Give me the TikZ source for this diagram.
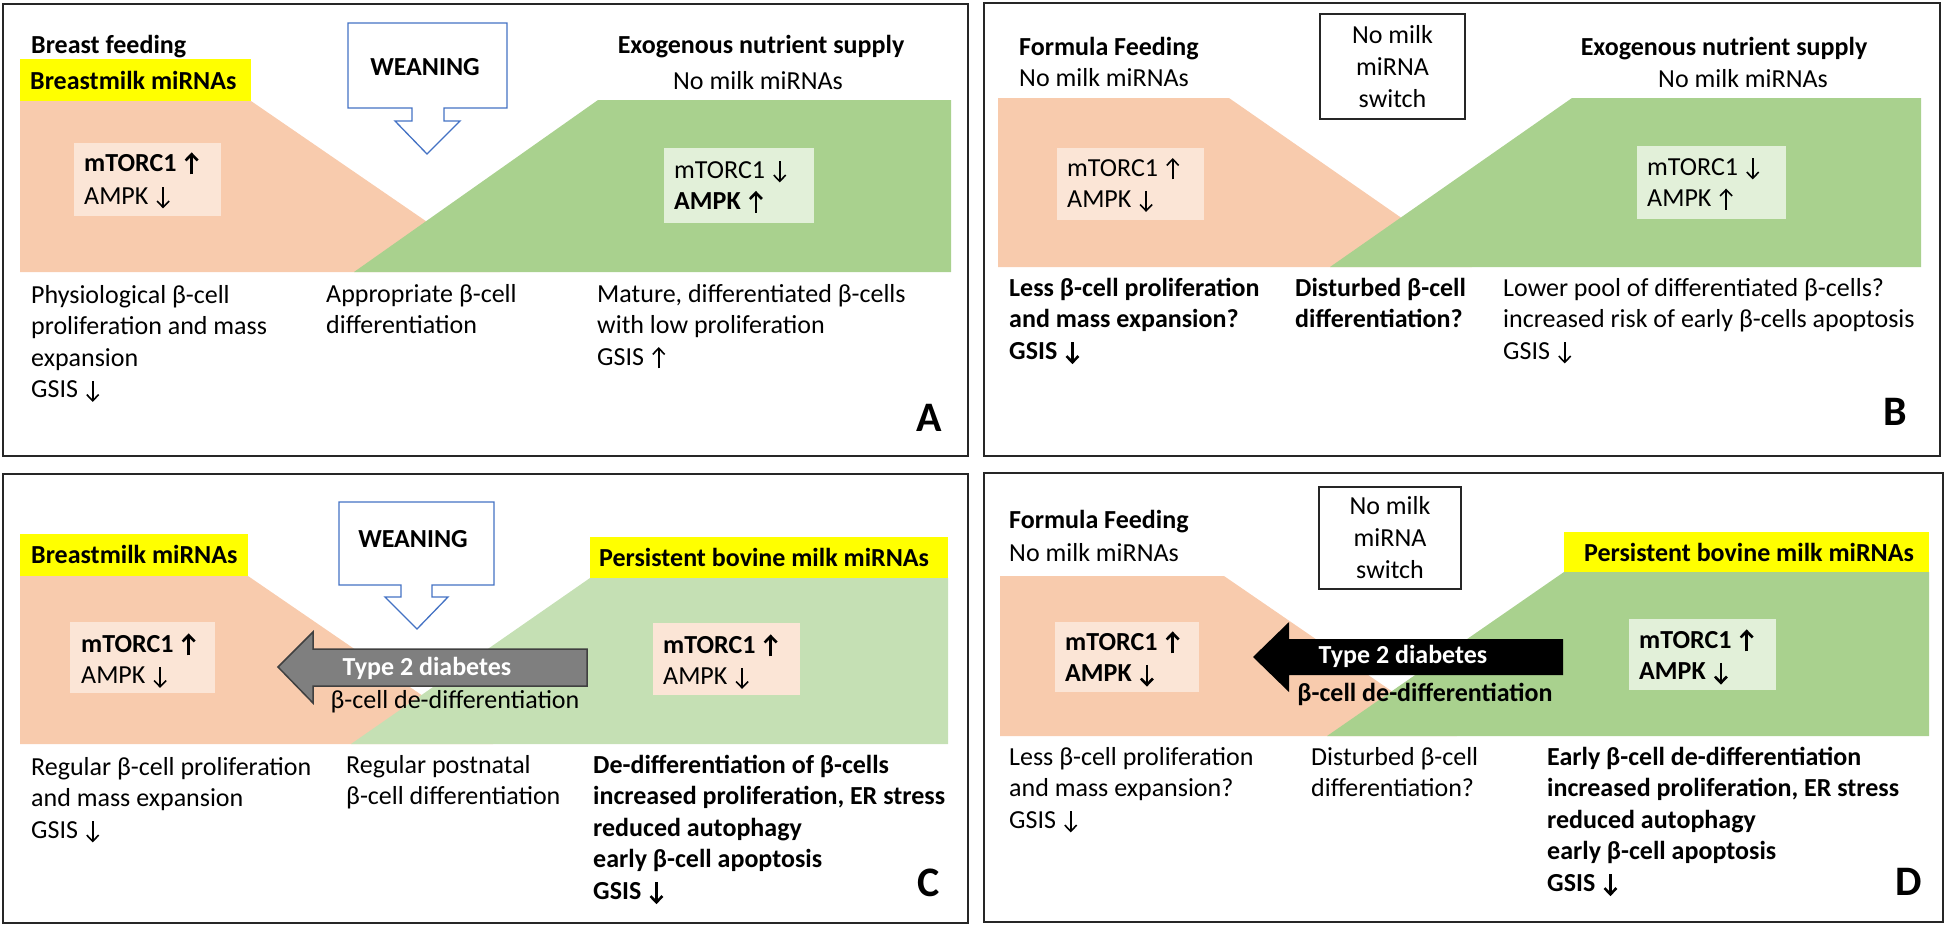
\documentclass[tikz,border=0pt]{standalone}
\usepackage{fontspec}
\setmainfont{Carlito}
\newcommand{\arrowup}[1]{\kern2pt\tikz[baseline=0pt,x=1pt,y=1pt,line width=#1,line cap=butt,line join=miter]{\path (0,-4) rectangle (13,18); \draw (6.5,-3)--(6.5,17); \draw (0.5,10.8)--(6.5,17)--(12.5,10.8);}}
\newcommand{\arrowdn}[1]{\kern2pt\tikz[baseline=0pt,x=1pt,y=1pt,line width=#1,line cap=butt,line join=miter]{\path (0,-4) rectangle (13,18); \draw (6.5,17)--(6.5,-3); \draw (0.5,3.2)--(6.5,-3)--(12.5,3.2);}}
\newcommand{\UA}{\arrowup{1.6pt}}
\newcommand{\DA}{\arrowdn{1.6pt}}
\newcommand{\UAb}{\arrowup{2.6pt}}
\newcommand{\DAb}{\arrowdn{2.6pt}}
\definecolor{peach}{HTML}{F8CBAD}
\definecolor{leaf}{HTML}{A9D18E}
\definecolor{leafl}{HTML}{C5E0B4}
\definecolor{peachbox}{HTML}{FBE5D6}
\definecolor{leafbox}{HTML}{E2F0D9}
\definecolor{hiyel}{HTML}{FFFF00}
\definecolor{wblue}{HTML}{4472C4}
\definecolor{garrow}{HTML}{7F7F7F}
\tikzset{
  txt/.style={inner sep=0pt, anchor=north west, align=left, font=\fontsize{26}{31.5}\selectfont},
  txtb/.style={txt, font=\fontsize{26}{31.5}\selectfont\bfseries},
  lbl/.style={inner sep=0pt, font=\fontsize{26}{31.5}\selectfont},
  lblb/.style={lbl, font=\fontsize{26}{31.5}\selectfont\bfseries},
  panel/.style={draw=black!85, line width=2pt},
  letter/.style={inner sep=0pt, font=\fontsize{42}{42}\selectfont\bfseries},
  weanarrow/.style={draw=wblue, fill=white, line width=1.3pt, line join=miter},
  switchbox/.style={draw=black!85, line width=1.3pt, fill=white, inner sep=0pt, align=center, font=\fontsize{26}{32}\selectfont},
}
\begin{document}
\begin{tikzpicture}[x=1pt,y=-1pt]
\useasboundingbox (0,0) rectangle (1946,926);

% ================= Panel A =================
\draw[panel] (3,4) rectangle (968,456);
\fill[peach] (20,101) -- (251,101) -- (500,272) -- (20,272) -- cycle;
\fill[leaf] (598,100) -- (951,100) -- (951,272) -- (354,272) -- cycle;
\fill[hiyel] (20,59) rectangle (251,101);
\node[lblb, anchor=base west] (aBF) at (31,53) {Breast feeding};
\node[lblb, anchor=base west] (aBM) at (30,89) {Breastmilk miRNAs};
\draw[weanarrow] (348,23) -- (507,23) -- (507,108) -- (444,108) -- (444,121) -- (460,121) -- (427,154) -- (395,121) -- (412,121) -- (412,108) -- (348,108) -- cycle;
\node[lblb] (aW) at (425,67) {WEANING};
\node[lblb, anchor=base] (aEx) at (761,53) {Exogenous nutrient supply};
\node[lbl, anchor=base] (aNo) at (758,89) {No milk miRNAs};
\fill[peachbox] (74,143) rectangle (221,216);
\node[txt] (aL) at (84,149) {\strut\textbf{mTORC1 \UAb}\\[1.5pt]AMPK \DA};
\fill[leafbox] (664,148) rectangle (814,223);
\node[txt] (aR) at (674,156) {\strut mTORC1 \DA\\\textbf{AMPK \UAb}};
\node[txt] (aB1) at (31,281) {\strut Physiological β-cell\\proliferation and mass\\expansion\\GSIS \DA};
\node[txt] (aB2) at (326,280) {\strut Appropriate β-cell\\differentiation};
\node[txt] (aB3) at (597,280) {\strut Mature, differentiated β-cells\\with low proliferation\\GSIS \UA};
\node[letter] (aLet) at (929,418) {A};

% ================= Panel B =================
\draw[panel] (984,3) rectangle (1940,456);
\fill[peach] (998,98) -- (1229,98) -- (1472,267) -- (998,267) -- cycle;
\fill[leaf] (1572,98) -- (1921,98) -- (1921,267) -- (1330,267) -- cycle;
\node[switchbox, minimum width=145pt, minimum height=105pt] (bSw) at (1392.5,66.5) {No milk\\miRNA\\switch};
\node[txt] (bFF) at (1019,33) {\strut\textbf{Formula Feeding}\\No milk miRNAs};
\node[lblb, anchor=base] (bEx) at (1724,55) {Exogenous nutrient supply};
\node[lbl, anchor=base] (bNo) at (1743,87) {No milk miRNAs};
\fill[peachbox] (1057,148) rectangle (1204,220);
\node[txt] (bL) at (1067,154) {\strut mTORC1 \UA\\AMPK \DA};
\fill[leafbox] (1637,146) rectangle (1786,219);
\node[txt] (bR) at (1647,153) {\strut mTORC1 \DA\\AMPK \UA};
\node[txtb] (bB1) at (1009,274) {\strut Less β-cell proliferation\\and mass expansion?\\GSIS \DAb};
\node[txtb] (bB2) at (1295,274) {\strut Disturbed β-cell\\differentiation?};
\node[txt] (bB3) at (1503,274) {\strut Lower pool of differentiated β-cells?\\increased risk of early β-cells apoptosis\\GSIS \DA};
\node[letter] (bLet) at (1895,412) {B};

% ================= Panel C =================
\draw[panel] (3,474) rectangle (968,923);
\fill[peach] (20,576) -- (248,576) -- (493,744) -- (20,744) -- cycle;
\fill[leafl] (590,578) -- (948,578) -- (948,744) -- (351,744) -- cycle;
\fill[hiyel] (20,534) rectangle (248,576);
\node[lblb, anchor=base west] (cBM) at (31,563) {Breastmilk miRNAs};
\fill[hiyel] (590,537) rectangle (948,578);
\node[lblb, anchor=base west] (cPB) at (599,566) {Persistent bovine milk miRNAs};
\draw[weanarrow] (339,502) -- (494,502) -- (494,585) -- (432,585) -- (432,597) -- (448,597) -- (417,629) -- (385,597) -- (401,597) -- (401,585) -- (339,585) -- cycle;
\node[lblb] (cW) at (413,539) {WEANING};
\fill[peachbox] (70,622) rectangle (215,693);
\node[txt] (cL) at (81,630) {\strut\textbf{mTORC1 \UAb}\\AMPK \DA};
\fill[peachbox] (653,623) rectangle (800,695);
\node[txt] (cR) at (663,631) {\strut\textbf{mTORC1 \UAb}\\AMPK \DA};
\draw[fill=garrow, draw=black!75, line width=1.5pt, line join=miter] (587,649) -- (587,686) -- (313,686) -- (313,703) -- (278,667) -- (313,632) -- (313,649) -- cycle;
\node[lblb, text=white] (cT2) at (427,668) {Type 2 diabetes};
\node[lbl, anchor=base] (cDD) at (455,708) {β-cell de-differentiation};
\node[txt] (cB1) at (31,753) {\strut Regular β-cell proliferation\\and mass expansion\\GSIS \DA};
\node[txt] (cB2) at (346,751) {\strut Regular postnatal\\β-cell differentiation};
\node[txtb] (cB3) at (593,751) {\strut De-differentiation of β-cells\\increased proliferation, ER stress\\reduced autophagy\\early β-cell apoptosis\\GSIS \DAb};
\node[letter] (cLet) at (929,883) {C};

% ================= Panel D =================
\draw[panel] (984,473) rectangle (1943,922);
\fill[peach] (1000,576) -- (1224,576) -- (1457,736) -- (1000,736) -- cycle;
\fill[leaf] (1564,572) -- (1929,572) -- (1929,736) -- (1327,736) -- cycle;
\fill[hiyel] (1564,532) rectangle (1929,572);
\node[lblb, anchor=base] (dPB) at (1749,561) {Persistent bovine milk miRNAs};
\node[switchbox, minimum width=142pt, minimum height=102pt] (dSw) at (1390,538) {No milk\\miRNA\\switch};
\node[txt] (dFF) at (1009,506) {\strut\textbf{Formula Feeding}\\[2pt]No milk miRNAs};
\fill[peachbox] (1055,622) rectangle (1199,692);
\node[txtb] (dL) at (1065,628) {\strut mTORC1 \UAb\\AMPK \DAb};
\fill[leafbox] (1629,619) rectangle (1776,690);
\node[txtb] (dR) at (1639,626) {\strut mTORC1 \UAb\\AMPK \DAb};
\fill[black] (1563,639) -- (1563,675) -- (1289,675) -- (1289,692) -- (1253,657) -- (1289,622) -- (1289,639) -- cycle;
\node[lblb, text=white] (dT2) at (1403,656) {Type 2 diabetes};
\node[lblb, anchor=base] (dDD) at (1425,701) {β-cell de-differentiation};
\node[txt] (dB1) at (1009,743) {\strut Less β-cell proliferation\\and mass expansion?\\GSIS \DA};
\node[txt] (dB2) at (1311,743) {\strut Disturbed β-cell\\differentiation?};
\node[txtb] (dB3) at (1547,743) {\strut Early β-cell de-differentiation\\increased proliferation, ER stress\\reduced autophagy\\early β-cell apoptosis\\GSIS \DAb};
\node[letter] (dLet) at (1909,882) {D};
\end{tikzpicture}
\end{document}
